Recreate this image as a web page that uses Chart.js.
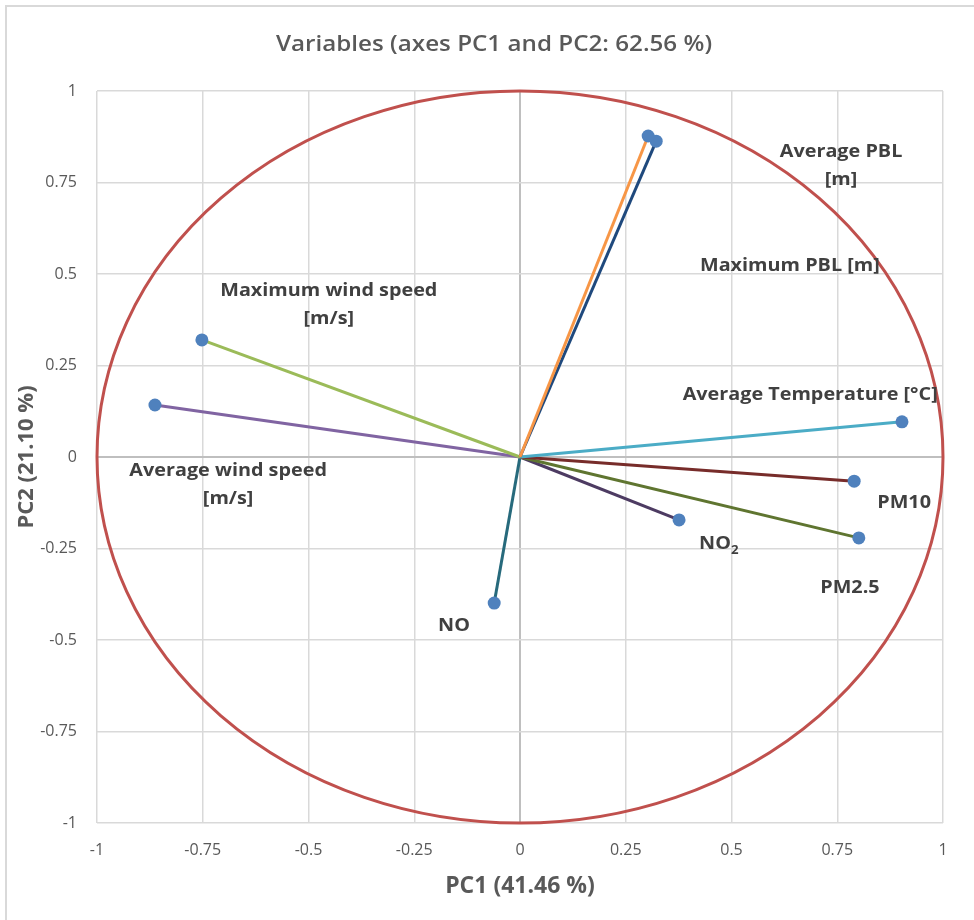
<!DOCTYPE html>
<html>
<head>
<meta charset="utf-8">
<title>Variables (axes PC1 and PC2: 62.56 %)</title>
<script src="https://cdn.jsdelivr.net/npm/chart.js@4.4.1/dist/chart.umd.min.js"></script>
<style>
  html, body { margin: 0; padding: 0; background: #ffffff; }
  canvas { display: block; }
</style>
</head>
<body>
<canvas id="chart" width="974" height="920"></canvas>
<script>
const VARIABLES = [
  'Average PBL [m]',
  'Maximum PBL [m]',
  'Maximum wind speed [m/s]',
  'Average wind speed [m/s]',
  'Average Temperature [°C]',
  'PM10',
  'PM2.5',
  'NO2',
  'NO'
];
const PC1 = [0.303, 0.322, -0.752, -0.863, 0.903, 0.790, 0.801, 0.376, -0.061];
const PC2 = [0.877, 0.863, 0.320, 0.142, 0.096, -0.066, -0.221, -0.172, -0.399];
const TICKS = [-1, -0.75, -0.5, -0.25, 0, 0.25, 0.5, 0.75, 1];

// label text as drawn (one entry per line, "_" marks a subscript)
const LABEL_LINES = [
  ['Average PBL', '[m]'],
  ['Maximum PBL [m]'],
  ['Maximum wind speed', '[m/s]'],
  ['Average wind speed', '[m/s]'],
  ['Average Temperature [°C]'],
  ['PM10'],
  ['PM2.5'],
  ['NO_2'],
  ['NO']
];
// where each label block is centred, in axis units
const LABEL_X = [0.759, 0.638, -0.452, -0.690, 0.686, 0.908, 0.780, 0.470, -0.156];
const LABEL_Y = [0.795, 0.522, 0.415, -0.077, 0.169, -0.126, -0.358, -0.238, -0.462];

const LINE_COLORS = ['#F79646', '#1F497D', '#9BBB59', '#8064A2', '#4BACC6',
                     '#772C2A', '#5F7530', '#4D3B62', '#276A7C'];

const FONT = '"Open Sans", "Noto Sans", sans-serif';
const STRETCH = 1.1; // the picture is a bit wider than tall

const datasets = VARIABLES.map((name, i) => ({
  label: name,
  data: [{ x: 0, y: 0 }, { x: PC1[i], y: PC2[i] }],
  showLine: true,
  borderColor: LINE_COLORS[i],
  borderWidth: 3,
  pointRadius: [0, 6.5],
  pointHoverRadius: [0, 6.5],
  pointBackgroundColor: '#4F81BD',
  pointBorderColor: '#4F81BD',
  pointBorderWidth: 0
}));

function drawRich(ctx, text, cx, cy, size) {
  const parts = text.split('_');
  const big = `bold ${size}px ${FONT}`;
  const small = `bold ${Math.round(size * 0.65)}px ${FONT}`;
  ctx.font = big;
  const w0 = ctx.measureText(parts[0]).width;
  let w1 = 0;
  if (parts[1]) {
    ctx.font = small;
    w1 = ctx.measureText(parts[1]).width;
  }
  ctx.save();
  ctx.translate(cx, cy);
  ctx.scale(STRETCH, 1);
  ctx.textAlign = 'left';
  ctx.textBaseline = 'middle';
  const x = -(w0 + w1) / 2;
  ctx.font = big;
  ctx.fillText(parts[0], x, 0);
  if (parts[1]) {
    ctx.font = small;
    ctx.fillText(parts[1], x + w0, size * 0.35);
  }
  ctx.restore();
}

const pcaPlugin = {
  id: 'pca',
  beforeDraw(chart) {
    const ctx = chart.ctx;
    ctx.save();
    ctx.fillStyle = '#ffffff';
    ctx.fillRect(0, 0, chart.width, chart.height);
    ctx.strokeStyle = '#d9d9d9';
    ctx.lineWidth = 2;
    ctx.strokeRect(6, 6, chart.width + 20, chart.height + 20);
    // title
    ctx.translate(494, 45);
    ctx.scale(STRETCH, 1);
    ctx.fillStyle = '#595959';
    ctx.font = `600 22px ${FONT}`;
    ctx.textAlign = 'center';
    ctx.textBaseline = 'middle';
    ctx.fillText('Variables (axes PC1 and PC2: 62.56 %)', 0, 0);
    ctx.restore();
  },
  beforeDatasetsDraw(chart) {
    // correlation circle of radius 1
    const { ctx, scales: { x, y } } = chart;
    const cx = x.getPixelForValue(0), cy = y.getPixelForValue(0);
    const rx = x.getPixelForValue(1) - cx, ry = cy - y.getPixelForValue(1);
    ctx.save();
    ctx.strokeStyle = '#C0504D';
    ctx.lineWidth = 3;
    ctx.beginPath();
    ctx.ellipse(cx, cy, rx, ry, 0, 0, Math.PI * 2);
    ctx.stroke();
    ctx.restore();
  },
  afterDatasetsDraw(chart) {
    const { ctx, scales: { x, y } } = chart;
    ctx.save();
    ctx.fillStyle = '#404040';
    LABEL_LINES.forEach((lines, i) => {
      const px = x.getPixelForValue(LABEL_X[i]);
      const py = y.getPixelForValue(LABEL_Y[i]);
      const lh = 28;
      lines.forEach((t, k) => {
        drawRich(ctx, t, px, py + (k - (lines.length - 1) / 2) * lh, 18);
      });
    });
    ctx.restore();
  }
};

const gridColor = c => (c.tick && c.tick.value === 0) ? '#bfbfbf' : '#d9d9d9';
const gridWidth = c => (c.tick && c.tick.value === 0) ? 2 : 1.5;

new Chart(document.getElementById('chart'), {
  type: 'scatter',
  data: { datasets },
  plugins: [pcaPlugin],
  options: {
    responsive: false,
    animation: false,
    layout: { padding: { left: 6, top: 91, right: 31, bottom: 0 } },
    plugins: {
      legend: { display: false },
      tooltip: { enabled: false }
    },
    scales: {
      x: {
        type: 'linear',
        min: -1, max: 1,
        afterBuildTicks: s => { s.ticks = TICKS.map(v => ({ value: v })); },
        afterFit: s => { s.height = 97; },
        grid: { color: gridColor, lineWidth: gridWidth, drawTicks: false },
        border: { display: false },
        ticks: {
          padding: 18,
          color: '#595959',
          font: { family: FONT, size: 16 },
          callback: v => String(v)
        },
        title: {
          display: true,
          text: 'PC1 (41.46 %)',
          color: '#595959',
          font: { family: FONT, size: 23, weight: 'bold' },
          padding: { top: 0, bottom: 20 }
        }
      },
      y: {
        type: 'linear',
        min: -1, max: 1,
        afterBuildTicks: s => { s.ticks = TICKS.map(v => ({ value: v })); },
        afterFit: s => { s.width = 91; },
        grid: { color: gridColor, lineWidth: gridWidth, drawTicks: false },
        border: { display: false },
        ticks: {
          padding: 20,
          color: '#595959',
          font: { family: FONT, size: 16 },
          callback: v => String(v)
        },
        title: {
          display: true,
          text: 'PC2 (21.10 %)',
          color: '#595959',
          font: { family: FONT, size: 22, weight: 'bold' },
          padding: { top: 8, bottom: 0 }
        }
      }
    }
  }
});
</script>
</body>
</html>
